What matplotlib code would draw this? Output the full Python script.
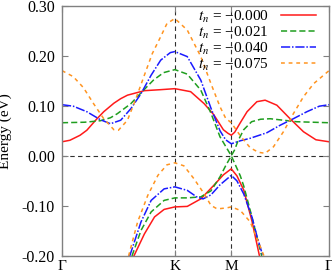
import matplotlib
matplotlib.use("Agg")
import matplotlib.pyplot as plt

plt.rcParams['font.family'] = 'serif'
plt.rcParams['font.serif'] = ['Liberation Serif', 'DejaVu Serif']
plt.rcParams['mathtext.fontset'] = 'stix'

# high-symmetry points along the path (Gamma-K-M-Gamma)
sym_pos = [0.0, 1.0, 1.5, 2.366]
sym_labels = ['Γ', 'K', 'M', 'Γ']

labels = ['$t_n$ = \u22120.000', '$t_n$ = \u22120.021', '$t_n$ = \u22120.040', '$t_n$ = \u22120.075']

# t_n = -0.000
k_red_up = [0, 0.07, 0.16, 0.22, 0.31, 0.37, 0.46, 0.52, 0.58, 0.73, 0.875, 1.0, 1.14, 1.26, 1.345,
            1.43, 1.47, 1.5, 1.53, 1.58, 1.64, 1.727, 1.80, 1.904, 2.021, 2.14, 2.25, 2.366]
e_red_up = [0.028, 0.031, 0.041, 0.051, 0.074, 0.088, 0.105, 0.114, 0.121, 0.130, 0.132, 0.134, 0.128,
            0.104, 0.082, 0.052, 0.045, 0.041, 0.047, 0.066, 0.088, 0.108, 0.111, 0.101, 0.074, 0.048,
            0.032, 0.028]
k_red_lo = [0.637, 0.73, 0.82, 0.905, 1.0, 1.11, 1.23, 1.345, 1.43, 1.5, 1.55, 1.61, 1.683, 1.75]
e_red_lo = [-0.200, -0.156, -0.122, -0.107, -0.102, -0.101, -0.086, -0.059, -0.038, -0.026, -0.040,
            -0.068, -0.130, -0.200]

# t_n = -0.021
k_green_up = [0, 0.2, 0.34, 0.43, 0.49, 0.61, 0.71, 0.81, 0.90, 1.0, 1.11, 1.23, 1.32, 1.40, 1.45, 1.5,
              1.53, 1.56, 1.61, 1.68, 1.76, 1.845, 1.962, 2.08, 2.366]
e_green_up = [0.066, 0.067, 0.070, 0.076, 0.084, 0.104, 0.128, 0.151, 0.166, 0.172, 0.163, 0.131, 0.085,
              0.038, 0.019, 0.0, 0.012, 0.030, 0.052, 0.068, 0.073, 0.074, 0.071, 0.068, 0.066]
k_green_lo = [0.62, 0.70, 0.79, 0.905, 1.0, 1.11, 1.23, 1.32, 1.40, 1.45, 1.5, 1.55, 1.58, 1.61, 1.668, 1.77]
e_green_lo = [-0.200, -0.149, -0.112, -0.089, -0.084, -0.084, -0.082, -0.070, -0.042, -0.020, 0.0,
              -0.025, -0.040, -0.060, -0.109, -0.200]

# t_n = -0.040
k_blue_up = [0, 0.10, 0.22, 0.34, 0.43, 0.52, 0.61, 0.70, 0.79, 0.875, 0.96, 1.0, 1.11, 1.23, 1.32, 1.40,
             1.45, 1.5, 1.58, 1.668, 1.815, 1.933, 2.05, 2.17, 2.28, 2.366]
e_blue_up = [0.102, 0.099, 0.088, 0.072, 0.064, 0.071, 0.094, 0.124, 0.161, 0.191, 0.206, 0.208, 0.198,
             0.151, 0.095, 0.050, 0.032, 0.024, 0.030, 0.035, 0.046, 0.061, 0.074, 0.088, 0.099, 0.102]
k_blue_lo = [0.60, 0.70, 0.79, 0.905, 1.0, 1.11, 1.20, 1.25, 1.32, 1.40, 1.5, 1.55, 1.61, 1.683, 1.727, 1.78]
e_blue_lo = [-0.200, -0.132, -0.089, -0.066, -0.062, -0.069, -0.083, -0.086, -0.078, -0.058, -0.039,
             -0.050, -0.076, -0.122, -0.160, -0.200]

# t_n = -0.075
k_orange_up = [0, 0.10, 0.19, 0.28, 0.37, 0.46, 0.50, 0.58, 0.65, 0.73, 0.80, 0.875, 0.93, 1.0, 1.11, 1.23,
               1.32, 1.40, 1.45, 1.5, 1.58, 1.668, 1.741, 1.80, 1.874, 1.962, 2.05, 2.14, 2.23, 2.366]
e_orange_up = [0.170, 0.158, 0.136, 0.104, 0.074, 0.052, 0.051, 0.071, 0.111, 0.161, 0.204, 0.238, 0.264,
               0.274, 0.251, 0.198, 0.144, 0.098, 0.075, 0.066, 0.040, 0.016, 0.007, 0.005, 0.018, 0.048,
               0.084, 0.118, 0.144, 0.170]
k_orange_lo = [0.59, 0.67, 0.76, 0.85, 0.93, 1.0, 1.08, 1.17, 1.26, 1.32, 1.375, 1.46, 1.5, 1.58, 1.668,
               1.741, 1.79]
e_orange_lo = [-0.200, -0.132, -0.079, -0.039, -0.018, -0.014, -0.020, -0.046, -0.076, -0.099, -0.106,
               -0.104, -0.102, -0.109, -0.132, -0.172, -0.200]

y_ticks = [0.30, 0.20, 0.10, 0.00, -0.10, -0.20]
y_tick_labels = ['0.30', '0.20', '0.10', '0.00', '-0.10', '-0.20']

series = [
    (k_red_up, e_red_up, k_red_lo, e_red_lo, '#ff1a1a', '-'),
    (k_green_up, e_green_up, k_green_lo, e_green_lo, '#1f9e1f', (0, (4, 2))),
    (k_blue_up, e_blue_up, k_blue_lo, e_blue_lo, '#1a1aff', (0, (6, 1.2, 1, 1.2))),
    (k_orange_up, e_orange_up, k_orange_lo, e_orange_lo, '#ff9420', (0, (2.5, 2.5))),
]

fig = plt.figure(figsize=(3.32, 2.76), dpi=100)
ax = fig.add_axes([62 / 332, 1 - 256 / 276, 267 / 332, 250.5 / 276])

for (ku, eu, kl, el, color, ls), lab in zip(series, labels):
    ax.plot(ku, eu, color=color, ls=ls, lw=1.1, label=lab)
    ax.plot(kl, el, color=color, ls=ls, lw=1.1)

# reference lines
for x in sym_pos[1:3]:
    ax.axvline(x, color='#303030', ls=(0, (4, 3)), lw=0.8, zorder=0)
ax.axhline(0.0, color='#303030', ls=(0, (4, 3)), lw=0.8, zorder=0)

ax.set_xlim(sym_pos[0], sym_pos[-1])
ax.set_ylim(-0.2, 0.3)
ax.set_xticks(sym_pos)
ax.set_xticklabels(sym_labels)
ax.set_yticks(y_ticks)
ax.set_yticklabels(y_tick_labels)
ax.set_ylabel('Energy (eV)', fontsize=11, labelpad=7)

for s in ax.spines.values():
    s.set_color('#808080')
    s.set_linewidth(1.0)
ax.tick_params(direction='in', length=4, width=0.8, color='#808080',
               top=True, right=True)
ax.tick_params(axis='y', labelsize=11.5, pad=5)
ax.tick_params(axis='x', labelsize=11, pad=3)

ax.legend(loc='upper right', frameon=False, markerfirst=False, fontsize=11,
          handlelength=2.3, labelspacing=0.0, handletextpad=0.8,
          bbox_to_anchor=(0.985, 1.025), borderaxespad=0.2)

fig.savefig('out.png', dpi=100)
